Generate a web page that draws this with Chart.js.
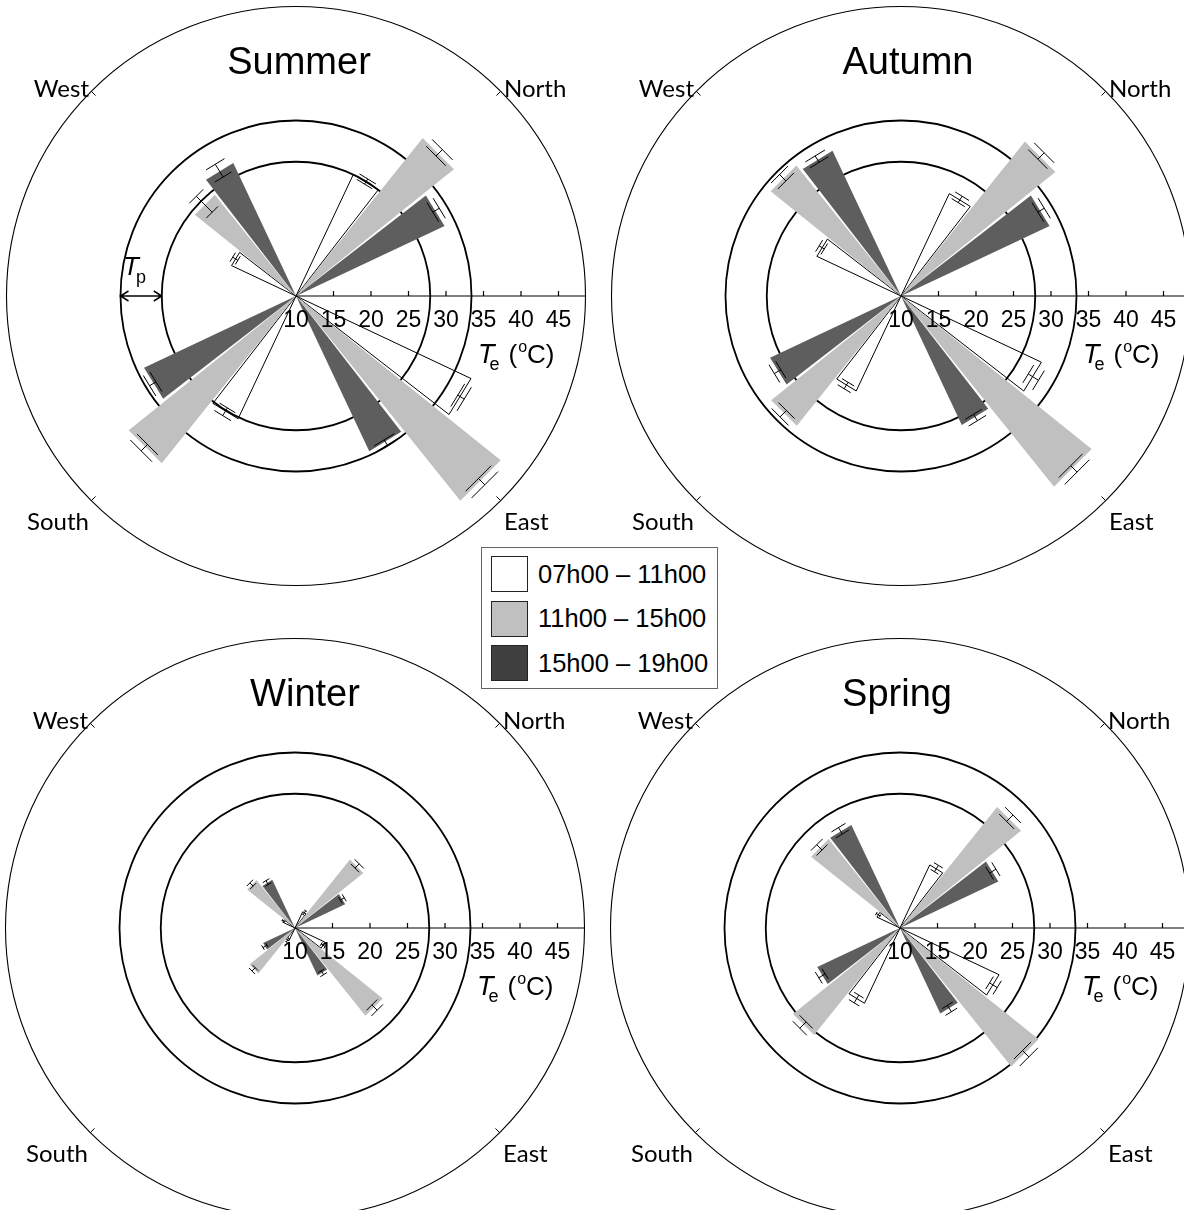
<!DOCTYPE html>
<html>
<head>
<meta charset="utf-8">
<script src="https://cdn.jsdelivr.net/npm/chart.js@4.4.1/dist/chart.umd.min.js"></script>
<style>
  html, body { margin: 0; padding: 0; background: #fff; overflow: hidden; }
  #page { position: relative; width: 1184px; height: 1210px; overflow: hidden; }
  canvas.panel { position: absolute; }
  #legend {
    position: absolute; left: 481px; top: 547px; width: 237px; height: 142px;
    box-sizing: border-box; border: 1px solid #666; background: #fff;
    font: 25.5px "Liberation Sans", Arial, sans-serif; color: #000;
  }
  #legend .row { position: absolute; left: 9px; height: 36px; display: flex; align-items: center; white-space: nowrap; }
  #legend .sw { width: 37px; height: 36px; box-sizing: border-box; border: 1.5px solid #222; margin-right: 10px; }
</style>
</head>
<body>
<div id="page">
  <canvas id="summer" class="panel" width="600" height="600"></canvas>
  <canvas id="autumn" class="panel" width="600" height="600"></canvas>
  <canvas id="winter" class="panel" width="600" height="600"></canvas>
  <canvas id="spring" class="panel" width="600" height="600"></canvas>
  <div id="legend"></div>
</div>
<script>
// directions in clockwise order, as labelled round each rose
const directions = ['North', 'East', 'South', 'West'];
const periods = ['07h00 – 11h00', '11h00 – 15h00', '15h00 – 19h00'];
const periodFills = ['rgba(255,255,255,0)', '#c0c0c0', '#5e5e5e'];
const legendFills = ['#ffffff', '#c0c0c0', '#404040'];
const axisTicks = [10, 15, 20, 25, 30, 35, 40, 45];
const tpBand = [27.9, 33.4];   // preferred temperature range (Tp)
const outerRing = 48.6;

// mean Te (°C) per direction: North, East, South, West
const summer07 = [27.9, 35.8, 28.1, 19.5];
const summer11 = [37.0, 45.0, 38.6, 27.3];
const summer15 = [31.9, 32.9, 32.4, 29.6];
const autumn07 = [25.1, 30.7, 24.0, 22.4];
const autumn11 = [36.4, 42.6, 32.2, 32.3];
const autumn15 = [31.9, 29.0, 29.3, 31.4];
const winter07 = [12.4, 14.4, 11.9, 11.8];
const winter11 = [21.7, 25.0, 17.8, 18.2];
const winter15 = [17.4, 17.0, 14.7, 17.1];
const spring07 = [19.3, 24.6, 21.1, 13.4];
const spring11 = [30.7, 33.7, 28.3, 25.2];
const spring15 = [24.5, 22.6, 22.2, 25.2];

// error bar half-lengths, one row per period, same direction order
const summerErr = [[0.4, 0.5, 0.6, 0.4], [0.6, 0.6, 0.6, 1.5], [0.5, 0.4, 0.5, 1.0]];
const autumnErr = [[0.5, 0.8, 0.5, 0.4], [0.6, 0.6, 0.6, 0.6], [0.5, 0.5, 0.5, 0.5]];
const winterErr = [[0.3, 0.3, 0.3, 0.2], [0.4, 0.5, 0.3, 0.3], [0.3, 0.3, 0.3, 0.3]];
const springErr = [[0.5, 0.6, 0.6, 0.3], [0.6, 0.6, 0.6, 0.5], [0.5, 0.5, 0.5, 0.5]];

const panels = [
  {id: 'summer', title: 'Summer', cx: 296, cy: 296, titleDx: 3, series: [summer07, summer11, summer15], err: summerErr, tp: true},
  {id: 'autumn', title: 'Autumn', cx: 901, cy: 296, titleDx: 7, series: [autumn07, autumn11, autumn15], err: autumnErr},
  {id: 'winter', title: 'Winter', cx: 295, cy: 928, titleDx: 10, series: [winter07, winter11, winter15], err: winterErr},
  {id: 'spring', title: 'Spring', cx: 900, cy: 928, titleDx: -3, series: [spring07, spring11, spring15], err: springErr},
];

// wedge geometry (degrees): three wedges round each diagonal
const WEDGE = 12.5;
const STEP = 13.5;
const GAP = STEP - WEDGE;
const START = 45 - STEP - WEDGE / 2;
const CAP_HALF = 4 * Math.PI / 180;

function buildWedges(series, err) {
  const data = [], errors = [], spans = [], kind = [];
  directions.forEach((d, k) => {
    series.forEach((s, p) => {
      data.push(s[k]); errors.push(err[p][k]); spans.push(WEDGE); kind.push(p);
      const gap = p < series.length - 1 ? GAP : 90 - 3 * WEDGE - 2 * GAP;
      data.push(null); errors.push(null); spans.push(gap); kind.push(-1);
    });
  });
  return {data, errors, spans, kind};
}

const SANS = '"Liberation Sans", Arial, sans-serif';

function drawTe(ctx, x, y) {
  ctx.textAlign = 'left';
  ctx.font = 'italic 27px ' + SANS;
  ctx.fillText('T', x, y);
  let xe = x + ctx.measureText('T').width - 5;
  ctx.font = '18px ' + SANS;
  ctx.fillText('e', xe, y + 7);
  let x2 = xe + ctx.measureText('e').width + 9;
  ctx.font = '26px ' + SANS;
  ctx.fillText('(', x2, y);
  x2 += ctx.measureText('(').width + 1;
  ctx.font = '16px ' + SANS;
  ctx.fillText('o', x2, y - 11);
  x2 += ctx.measureText('o').width;
  ctx.font = '26px ' + SANS;
  ctx.fillText('C)', x2, y);
}

const panelDecor = {
  id: 'panelDecor',
  afterDatasetsDraw(chart, args, opts) {
    const ctx = chart.ctx;
    const scale = chart.scales.r;
    const cx = scale.xCenter, cy = scale.yCenter;
    const rad = v => scale.getDistanceFromCenterForValue(v);
    const ds = chart.data.datasets[0];
    const meta = chart.getDatasetMeta(0);
    ctx.save();
    ctx.strokeStyle = '#000';
    ctx.fillStyle = '#000';

    // error bars: radial stem with tangential caps
    ctx.lineWidth = 1;
    meta.data.forEach((arc, i) => {
      const e = ds.errors[i];
      if (e == null) return;
      const v = ds.data[i];
      const a = (arc.startAngle + arc.endAngle) / 2;
      const ux = Math.cos(a), uy = Math.sin(a);
      const r0 = rad(v - e), r1 = rad(v + e);
      ctx.beginPath();
      ctx.moveTo(cx + ux * r0, cy + uy * r0);
      ctx.lineTo(cx + ux * r1, cy + uy * r1);
      [r0, r1].forEach(r => {
        const h = r * Math.tan(CAP_HALF);
        ctx.moveTo(cx + ux * r - uy * h, cy + uy * r + ux * h);
        ctx.lineTo(cx + ux * r + uy * h, cy + uy * r - ux * h);
      });
      ctx.stroke();
    });

    // Te axis along the horizontal
    const R = rad(outerRing);
    ctx.lineWidth = 1.2;
    ctx.beginPath();
    ctx.moveTo(cx, cy);
    ctx.lineTo(cx + R, cy);
    axisTicks.slice(1).forEach(t => {
      ctx.moveTo(cx + rad(t), cy);
      ctx.lineTo(cx + rad(t), cy - 5);
    });
    ctx.stroke();
    ctx.font = '23px ' + SANS;
    ctx.textAlign = 'center';
    ctx.textBaseline = 'alphabetic';
    axisTicks.forEach(t => ctx.fillText(String(t), cx + rad(t), cy + 31));
    drawTe(ctx, cx + 182, cy + 67);

    // compass ticks and names on the outer ring
    ctx.lineWidth = 1;
    ctx.font = '24px Lato, "Open Sans", sans-serif';
    directions.forEach((d, k) => {
      const a = (45 + 90 * k - 90) * Math.PI / 180;
      ctx.beginPath();
      ctx.moveTo(cx + Math.cos(a) * R, cy + Math.sin(a) * R);
      ctx.lineTo(cx + Math.cos(a) * (R - 6), cy + Math.sin(a) * (R - 6));
      ctx.stroke();
      const right = Math.cos(a) > 0;
      const below = Math.sin(a) > 0;
      ctx.textAlign = right ? 'left' : 'right';
      ctx.fillText(d, cx + (right ? 208 : -207), cy + (below ? 234 : -199));
    });

    // season title
    ctx.font = '38px ' + SANS;
    ctx.textAlign = 'center';
    ctx.fillText(opts.title, cx + opts.titleDx, cy - 222);

    // Tp band marker
    if (opts.tp) {
      const x0 = cx - rad(tpBand[1]), x1 = cx - rad(tpBand[0]);
      ctx.lineWidth = 1.5;
      ctx.beginPath();
      ctx.moveTo(x0, cy); ctx.lineTo(x1, cy);
      ctx.moveTo(x0 + 8, cy - 5); ctx.lineTo(x0, cy); ctx.lineTo(x0 + 8, cy + 5);
      ctx.moveTo(x1 - 8, cy - 5); ctx.lineTo(x1, cy); ctx.lineTo(x1 - 8, cy + 5);
      ctx.stroke();
      ctx.textAlign = 'left';
      ctx.font = 'italic 26px ' + SANS;
      ctx.fillText('T', cx - 173, cy - 21);
      const tw = ctx.measureText('T').width;
      ctx.font = '18px ' + SANS;
      ctx.fillText('p', cx - 173 + tw - 3, cy - 13);
    }
    ctx.restore();
  }
};

panels.forEach(p => {
  const canvas = document.getElementById(p.id);
  canvas.style.left = (p.cx - 300) + 'px';
  canvas.style.top = (p.cy - 300) + 'px';
  const w = buildWedges(p.series, p.err);
  new Chart(canvas, {
    type: 'polarArea',
    data: {
      labels: w.kind.map((k, i) => k < 0 ? '' : directions[Math.floor(i / 6)] + ' ' + periods[k]),
      datasets: [{
        data: w.data,
        errors: w.errors,
        angle: c => w.spans[c.dataIndex],
        backgroundColor: c => w.kind[c.dataIndex] < 0 ? 'rgba(0,0,0,0)' : periodFills[w.kind[c.dataIndex]],
        borderColor: '#000',
        borderWidth: c => w.kind[c.dataIndex] === 0 ? 1 : 0,
        circular: false,
      }]
    },
    options: {
      responsive: false,
      animation: false,
      events: [],
      layout: {padding: 0},
      plugins: {
        legend: {display: false},
        tooltip: {enabled: false},
        panelDecor: {title: p.title, titleDx: p.titleDx, tp: !!p.tp},
      },
      scales: {
        r: {
          min: 10,
          max: 50,
          startAngle: START,
          ticks: {display: false},
          pointLabels: {display: false},
          angleLines: {display: false},
          grid: {
            circular: true,
            color: '#000',
            lineWidth: c => (c.tick && c.tick.value === outerRing) ? 1.1 : 1.8,
          },
          afterBuildTicks: s => {
            s.ticks = [10, tpBand[0], tpBand[1], outerRing].map(v => ({value: v}));
          },
        }
      }
    },
    plugins: [panelDecor]
  });
});

// shared legend for the three time periods
const legend = document.getElementById('legend');
periods.forEach((label, i) => {
  const row = document.createElement('div');
  row.className = 'row';
  row.style.top = (8 + i * 44.5) + 'px';
  const sw = document.createElement('div');
  sw.className = 'sw';
  sw.style.background = legendFills[i];
  row.appendChild(sw);
  row.appendChild(document.createTextNode(label));
  legend.appendChild(row);
});
</script>
</body>
</html>
